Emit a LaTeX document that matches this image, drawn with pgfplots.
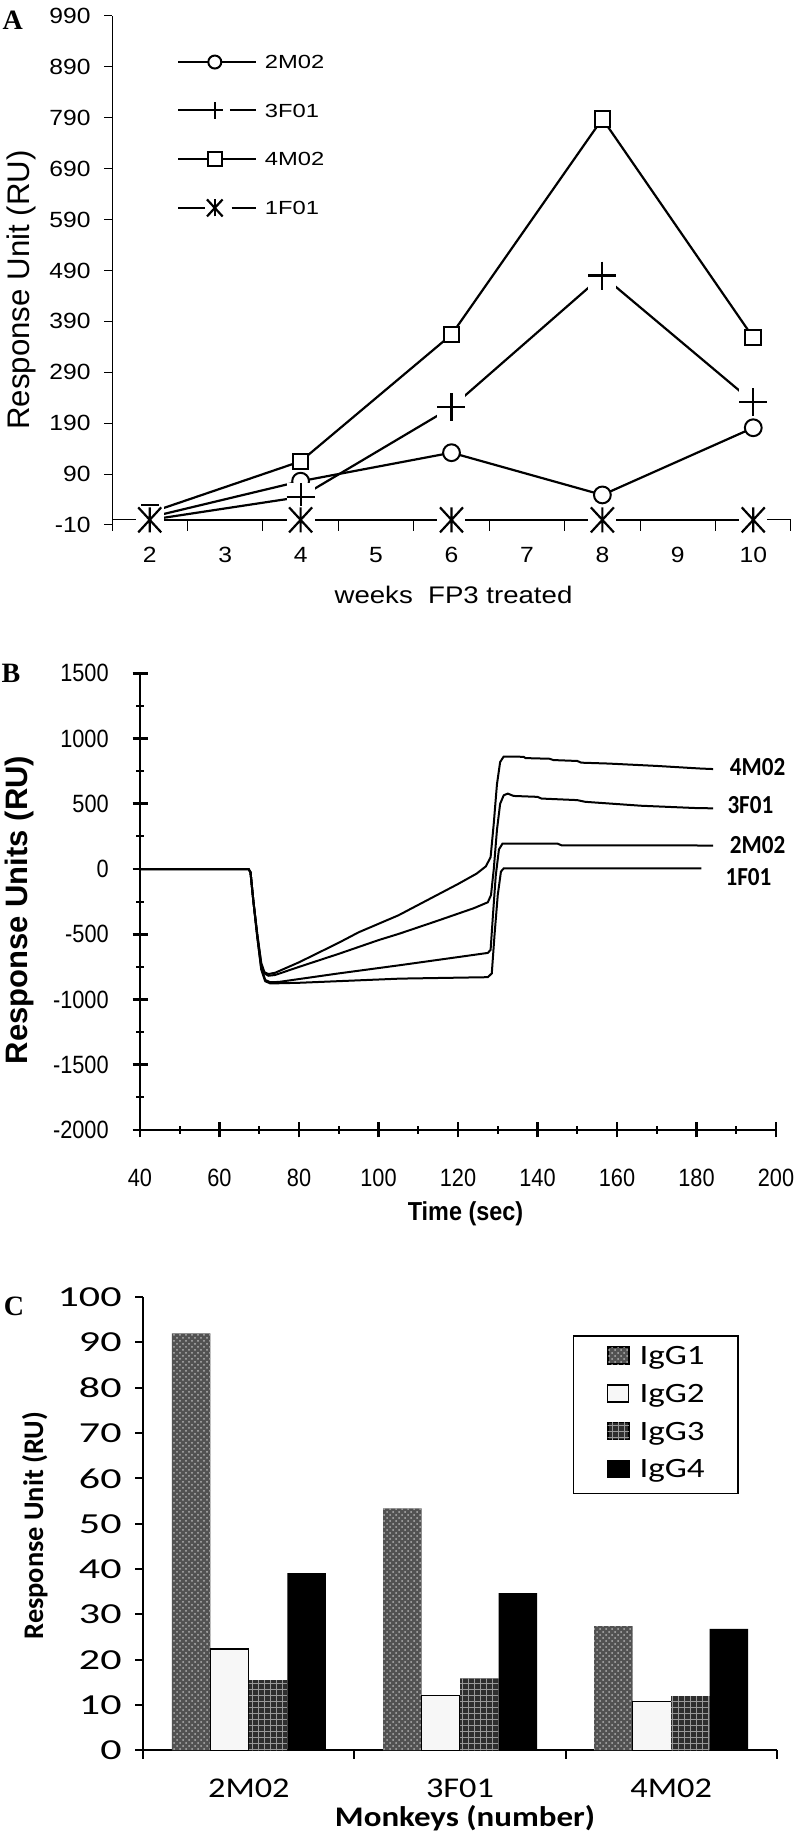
\documentclass[border=0pt]{standalone}
\usepackage{fontspec}
\usepackage{pgfplots}
\pgfplotsset{compat=1.18}
\usetikzlibrary{patterns}
\setmainfont{Liberation Sans}
\newfontfamily\fA[FakeStretch=1.12]{Liberation Sans}
\newfontfamily\fAleg[FakeStretch=1.25]{Liberation Sans}
\newfontfamily\fAx[FakeStretch=1.15]{Liberation Sans}
\newfontfamily\fB[FakeStretch=0.87]{Liberation Sans}
\newfontfamily\fBx[FakeStretch=0.9]{Liberation Sans}
\newfontfamily\fBlab[FakeStretch=0.89]{Carlito}
\newfontfamily\fC{Carlito}
\newfontfamily\fCt[FakeStretch=1.45]{Carlito}
\newfontfamily\fCc[FakeStretch=1.2]{Carlito}
\newfontfamily\fCleg[FakeStretch=1.25]{Carlito}
\newfontfamily\fCx[FakeStretch=1.16]{Carlito}
\newfontfamily\fSerif{Liberation Serif}

\newcommand{\fsAt}{\fA\fontsize{11}{13}\selectfont}
\newcommand{\fsAleg}{\fAleg\fontsize{9.5}{11}\selectfont}
\newcommand{\fsAx}{\fAx\fontsize{12}{14}\selectfont}
\newcommand{\fsAy}{\fontsize{15.6}{18}\selectfont}
\newcommand{\fsBt}{\fB\fontsize{12.5}{14}\selectfont}
\newcommand{\fsBy}{\bfseries\fontsize{15.5}{18}\selectfont}
\newcommand{\fsBx}{\fBx\bfseries\fontsize{13}{15}\selectfont}
\newcommand{\fsBlab}{\fBlab\bfseries\fontsize{13}{15}\selectfont}
\newcommand{\fsCt}{\fCt\fontsize{14.5}{16}\selectfont}
\newcommand{\fsCc}{\fCc\fontsize{14.3}{16}\selectfont}
\newcommand{\fsCleg}{\fCleg\fontsize{14}{16}\selectfont}
\newcommand{\fsCx}{\fCx\bfseries\fontsize{14.2}{16}\selectfont}
\newcommand{\fsCy}{\fC\bfseries\fontsize{14.2}{16}\selectfont}
\newcommand{\fsL}{\fSerif\bfseries\fontsize{14}{16}\selectfont}

\pgfplotsset{sqleg/.style={legend image code/.code={\draw[##1] (0pt,0.3pt) rectangle (10.5pt,8.8pt);}}}

\pgfdeclareplotmark{xstar}{%
  \pgfpathmoveto{\pgfqpoint{0pt}{-\pgfplotmarksize}}%
  \pgfpathlineto{\pgfqpoint{0pt}{\pgfplotmarksize}}%
  \pgfpathmoveto{\pgfqpoint{-0.92\pgfplotmarksize}{-\pgfplotmarksize}}%
  \pgfpathlineto{\pgfqpoint{0.92\pgfplotmarksize}{\pgfplotmarksize}}%
  \pgfpathmoveto{\pgfqpoint{-0.92\pgfplotmarksize}{\pgfplotmarksize}}%
  \pgfpathlineto{\pgfqpoint{0.92\pgfplotmarksize}{-\pgfplotmarksize}}%
  \pgfusepathqstroke}
\pgfdeclareplotmark{wsq}{%
  \pgfpathrectangle{\pgfqpoint{-\pgfplotmarksize}{-\pgfplotmarksize}}%
    {\pgfqpoint{2\pgfplotmarksize}{2\pgfplotmarksize}}%
  \pgfusepathqfill}

\begin{document}
\begin{tikzpicture}[x=1pt,y=1pt]
\useasboundingbox (0,0) rectangle (399,919.5);

%%%%%%%%%%%%%%%% Panel A
\begin{axis}[
  at={(56pt,657pt)}, anchor=south west, scale only axis,
  width=339.5pt, height=254.5pt,
  xmin=1.5, xmax=10.5, ymin=-10, ymax=990, enlargelimits=false, clip=false,
  axis x line=middle, axis y line=left,
  axis line style={-, line width=0.5pt, black},
  every inner x axis line/.append style={-},
  every outer x axis line/.append style={-},
  every inner y axis line/.append style={-},
  every outer y axis line/.append style={-},
  xtick={2,...,10}, xticklabels={2,3,4,5,6,7,8,9,10},
  minor xtick={1.5,2.5,...,10.5},
  ytick={-10,90,...,990},
  yticklabels={-10,90,190,290,390,490,590,690,790,890,990},
  tick align=center,
  major tick length=4pt, minor tick length=5.5pt,
  major x tick style={draw=none},
  minor x tick style={yshift=-2.75pt, line width=0.5pt, black},
  major y tick style={xshift=-2pt, line width=0.5pt, black},
  xticklabel style={font=\fsAt, anchor=center, inner sep=0pt, yshift=-15.65pt},
  yticklabel style={font=\fsAt, anchor=east, inner sep=0pt, xshift=-8.5pt},
  legend cell align=left,
  legend style={draw=none, fill=none, at={(0.0953,0.925)}, anchor=north west,
    font=\fsAleg, row sep=15.6pt, column sep=3.8pt, inner sep=0pt,
    nodes={inner sep=0pt, anchor=base west, text height=7pt, text depth=0pt}},
]
% 2M02
\addplot[forget plot, black, line width=1.1pt, mark=*, mark size=4.2pt,
  mark options={fill=white, draw=black, line width=1pt}]
  coordinates {(2,5) (4,76) (6,132) (8,49) (10,181)};
% 3F01
\addplot[forget plot, black, line width=1.1pt]
  coordinates {(2,0) (4,45) (6,221) (8,480) (10,231)};
\addplot[forget plot, only marks, white, mark=wsq, mark size=7pt]
  coordinates {(2,0) (4,45) (6,221) (8,480) (10,231)};
\addplot[forget plot, only marks, black, mark=+, mark size=7pt,
  mark options={line width=1.1pt}]
  coordinates {(2,0) (4,45) (6,221) (8,480) (10,231)};
% 4M02
\addplot[forget plot, black, line width=1.1pt, mark=square*, mark size=3.9pt,
  mark options={fill=white, draw=black, line width=1pt}]
  coordinates {(2,14) (4,115) (6,364) (8,788) (10,358)};
% 1F01
\addplot[forget plot, black, line width=1.1pt]
  coordinates {(2,0) (4,0) (6,0) (8,0) (10,0)};
\addplot[forget plot, only marks, white, mark=wsq, mark size=7pt]
  coordinates {(2,0) (4,0) (6,0) (8,0) (10,0)};
\addplot[forget plot, only marks, black, mark=xstar, mark size=6.25pt,
  mark options={line width=1.1pt}]
  coordinates {(2,0) (4,0) (6,0) (8,0) (10,0)};

\addlegendimage{legend image code/.code={
  \draw[black, line width=1.1pt] (0pt,3.4pt) -- (39pt,3.4pt);
  \draw[black, line width=1pt, fill=white] (18.3pt,3.4pt) circle (3.25pt);}}
\addlegendentry{2M02}
\addlegendimage{legend image code/.code={
  \draw[black, line width=1.1pt] (0pt,3.4pt) -- (14.15pt,3.4pt);
  \draw[black, line width=1.1pt] (25.8pt,3.4pt) -- (39pt,3.4pt);
  \draw[black, line width=1.1pt] (14.05pt,3.4pt) -- (22.55pt,3.4pt);
  \draw[black, line width=1.1pt] (18.3pt,-0.85pt) -- (18.3pt,7.65pt);}}
\addlegendentry{3F01}
\addlegendimage{legend image code/.code={
  \draw[black, line width=1.1pt] (0pt,3.4pt) -- (39pt,3.4pt);
  \draw[black, line width=1pt, fill=white] (14.8pt,-0.1pt) rectangle (21.8pt,6.9pt);}}
\addlegendentry{4M02}
\addlegendimage{legend image code/.code={
  \draw[black, line width=1.1pt] (0pt,3.4pt) -- (13.3pt,3.4pt);
  \draw[black, line width=1.1pt] (26.7pt,3.4pt) -- (39pt,3.4pt);
  \draw[black, line width=1.1pt] (18.3pt,-0.85pt) -- (18.3pt,7.65pt);
  \draw[black, line width=1.1pt] (14.4pt,-0.85pt) -- (22.2pt,7.65pt);
  \draw[black, line width=1.1pt] (14.4pt,7.65pt) -- (22.2pt,-0.85pt);}}
\addlegendentry{1F01}
\end{axis}
\node[font=\fsAy, rotate=90, anchor=base] at (14.5pt,774.5pt) {Response Unit (RU)};
\node[font=\fsAx, anchor=base] at (226.75pt,617.85pt) {weeks\ \ FP3 treated};
\node[font=\fsL, anchor=base] at (6.4pt,904.75pt) {A};

%%%%%%%%%%%%%%%% Panel B
\begin{axis}[
  at={(70pt,354.5pt)}, anchor=south west, scale only axis,
  width=318pt, height=228.35pt,
  xmin=40, xmax=200, ymin=-2000, ymax=1500, enlargelimits=false, clip=false,
  axis x line=bottom, axis y line=left,
  axis line style={-, line width=1.3pt, black},
  every inner x axis line/.append style={-},
  every outer x axis line/.append style={-},
  every inner y axis line/.append style={-},
  every outer y axis line/.append style={-},
  xtick={40,60,...,200}, xticklabels={40,60,80,100,120,140,160,180,200},
  minor x tick num=1,
  ytick={-2000,-1500,...,1500},
  yticklabels={-2000,-1500,-1000,-500,0,500,1000,1500},
  minor y tick num=1,
  tick align=center,
  major tick length=7.5pt, minor tick length=4pt,
  major tick style={line width=1.3pt, black},
  minor tick style={line width=1pt, black},
  xticklabel style={font=\fsBt, anchor=center, inner sep=0pt, yshift=-20pt},
  yticklabel style={font=\fsBt, anchor=east, inner sep=0pt, xshift=-11.7pt},
]
% 4M02
\addplot[black, line width=1pt] coordinates {
 (40,0) (67.3,0) (67.8,-25) (68.5,-240) (69.5,-500) (70.5,-720) (71.3,-790)
 (72.3,-805) (74,-795) (80,-715) (85,-640) (90,-565) (95,-485) (100,-420)
 (105,-355) (110,-275) (115,-195) (120,-115) (124.7,-35) (127,20) (128.2,90)
 (129,350) (129.8,650) (130.6,820) (131.5,862) (136.5,860) (137,850) (143,845)
 (144,835) (150,828) (151,815) (158,808) (170,790) (181,770) (184.2,766)};
% 3F01
\addplot[black, line width=1pt] coordinates {
 (40,0) (67.3,0) (67.8,-25) (68.5,-240) (69.5,-500) (70.5,-730) (71.3,-800)
 (72.3,-818) (74,-812) (80,-750) (90,-650) (100,-545) (105.4,-494) (115,-395)
 (124,-300) (127.5,-255) (128.3,-200) (129,0) (129.8,300) (130.6,500)
 (131.5,565) (132.5,578) (134,560) (140,553) (141,540) (150,528) (152,515)
 (166,485) (180,467) (184.2,465)};
% 2M02
\addplot[black, line width=1pt] coordinates {
 (40,0) (67.3,0) (67.8,-25) (68.5,-240) (69.5,-520) (70.5,-760) (71.5,-850)
 (72.8,-868) (75,-865) (90,-800) (105.4,-737) (120,-675) (127.5,-643)
 (128.2,-620) (128.8,-350) (129.5,-50) (130.3,150) (131.2,195) (145,195)
 (146,182) (184.2,180)};
% 1F01
\addplot[black, line width=1pt] coordinates {
 (40,0) (67.3,0) (67.8,-25) (68.5,-240) (69.5,-520) (70.5,-770) (71.5,-860)
 (72.8,-877) (80,-872) (105.4,-840) (127.5,-829) (128.5,-800) (129.2,-500)
 (130,-200) (130.8,-20) (131.5,5) (181.2,4)};
\node[anchor=west, inner sep=0pt, font=\fsBlab] at (axis cs:188.3,783) {4M02};
\node[anchor=west, inner sep=0pt, font=\fsBlab] at (axis cs:187.7,490) {3F01};
\node[anchor=west, inner sep=0pt, font=\fsBlab] at (axis cs:188.3,183) {2M02};
\node[anchor=west, inner sep=0pt, font=\fsBlab] at (axis cs:187.2,-60) {1F01};
\end{axis}
\node[font=\fsBy, rotate=90, anchor=base] at (13.5pt,464.5pt) {Response Units (RU)};
\node[font=\fsBx, anchor=base] at (232.75pt,309.25pt) {Time (sec)};
\node[font=\fsL, anchor=base] at (5.5pt,578.15pt) {B};

%%%%%%%%%%%%%%%% Panel C
\begin{axis}[
  at={(71.65pt,44.25pt)}, anchor=south west, scale only axis,
  width=316.7pt, height=226.75pt,
  xmin=0.5, xmax=3.5, ymin=0, ymax=100, enlargelimits=false,
  ybar=0pt, bar width=19.25pt,
  axis x line=bottom, axis y line=left,
  axis line style={-, line width=1pt, black},
  every inner x axis line/.append style={-},
  every outer x axis line/.append style={-},
  every inner y axis line/.append style={-},
  every outer y axis line/.append style={-},
  xtick={1,2,3}, xticklabels={2M02,3F01,4M02},
  minor xtick={0.5,1.5,2.5,3.5},
  ytick={0,10,...,100},
  yticklabels={0,10,20,30,40,50,60,70,80,90,100},
  tick align=outside,
  major tick length=4pt, minor tick length=4pt,
  major x tick style={draw=none},
  major y tick style={line width=1pt, black},
  minor x tick style={line width=1pt, black},
  xticklabel style={font=\fsCc, anchor=center, inner sep=0pt, yshift=-15pt},
  yticklabel style={font=\fsCt, anchor=east, inner sep=0pt, xshift=-6.65pt},
  legend cell align=left,
  legend style={draw=black, line width=0.8pt, fill=white,
    at={(0.678,0.916)}, anchor=north west,
    font=\fsCleg, row sep=6.65pt, column sep=5pt,
    inner xsep=16.7pt, inner ysep=5pt,
    nodes={inner sep=0pt, anchor=base west, text height=9.5pt, text depth=2.7pt}},
]
\addplot[draw=none, fill=black!68,
  postaction={pattern=crosshatch dots, pattern color=black!30}, sqleg]
  coordinates {(1,92) (2,53.4) (3,27.4)};
\addlegendentry{IgG1}
\addplot[draw=black, line width=0.6pt, fill=black!3, sqleg]
  coordinates {(1,22.4) (2,12.2) (3,10.8)};
\addlegendentry{IgG2}
\addplot[draw=none, fill=black!82,
  postaction={pattern=grid, pattern color=black!40}, sqleg]
  coordinates {(1,15.5) (2,15.9) (3,12.0)};
\addlegendentry{IgG3}
\addplot[draw=none, fill=black, sqleg]
  coordinates {(1,39.1) (2,34.7) (3,26.8)};
\addlegendentry{IgG4}
\end{axis}
\node[font=\fsCy, rotate=90, anchor=base] at (21.5pt,156.6pt) {Response Unit (RU)};
\node[font=\fsCx, anchor=base] at (232.5pt,6pt) {Monkeys (number)};
\node[font=\fsL, anchor=base] at (7pt,261.8pt) {C};
\end{tikzpicture}
\end{document}
